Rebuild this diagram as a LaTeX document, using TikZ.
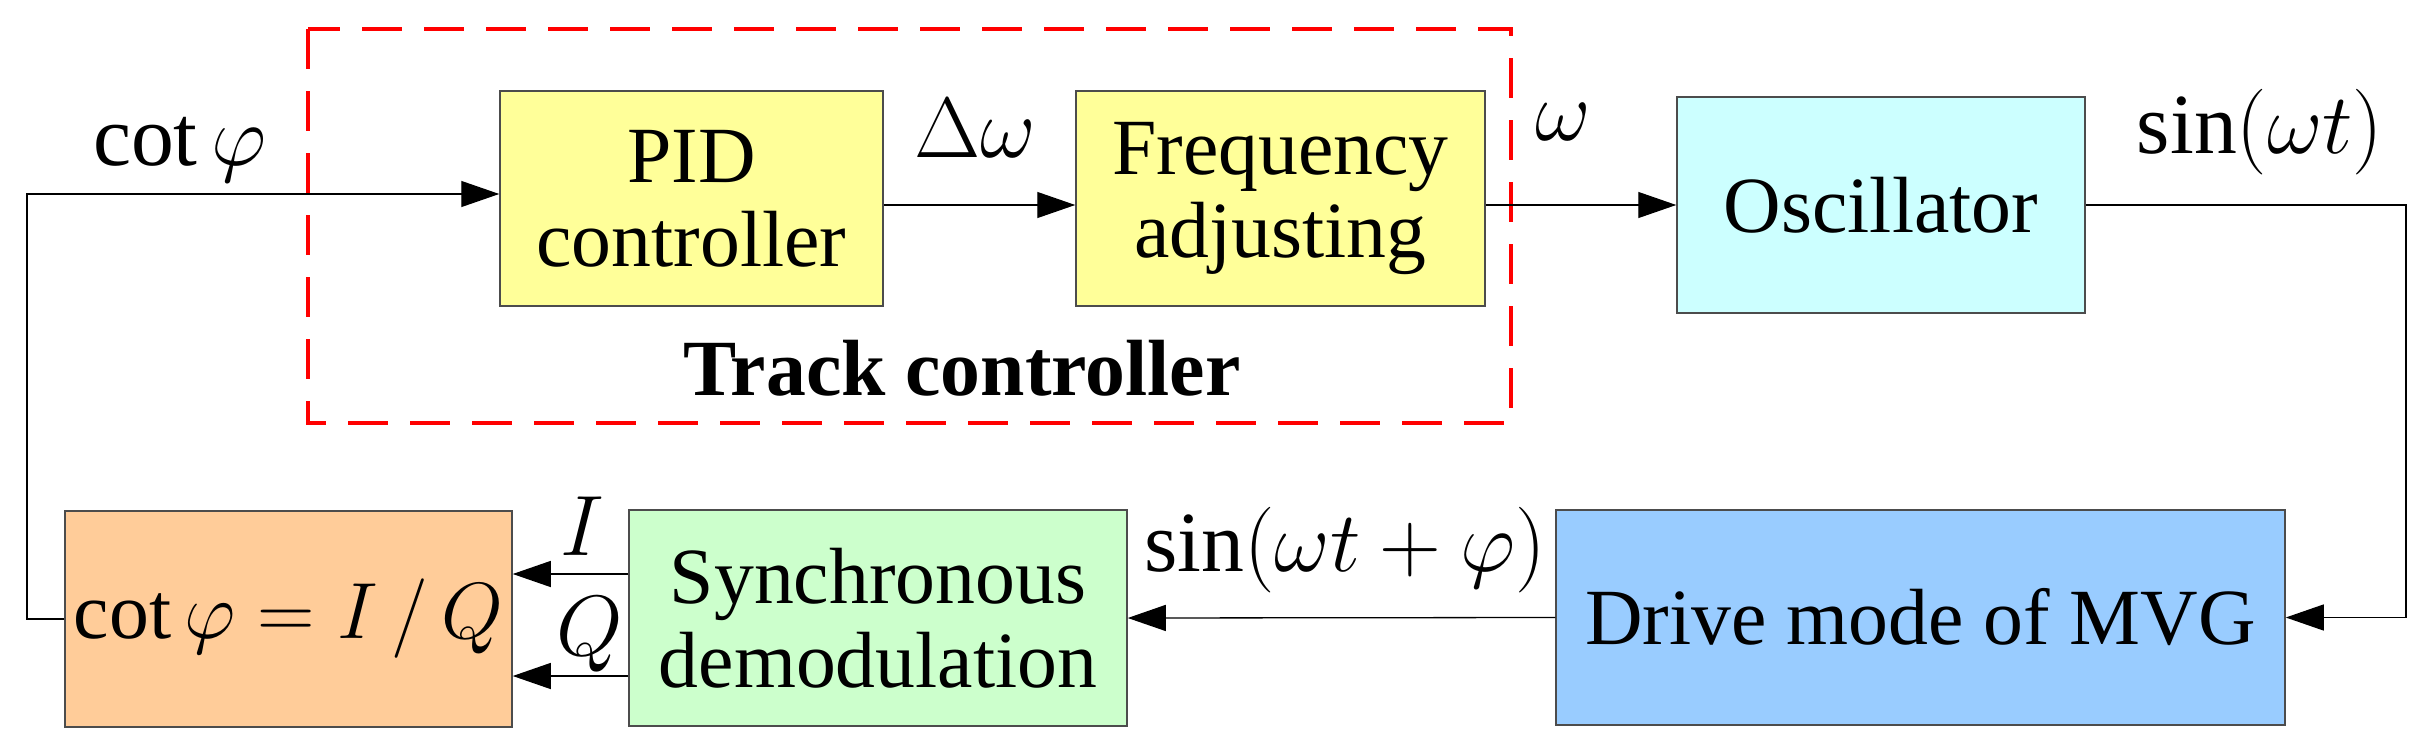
\RequirePackage{fix-cm}
\documentclass[tikz,border=0pt]{standalone}
\usepackage{fontspec}
\setmainfont{Liberation Serif}
\usetikzlibrary{arrows.meta}
\begin{document}
\begin{tikzpicture}[x=1bp,y=-1bp,
  blk/.style={draw=black!70,line width=1.5bp,align=center,inner sep=0pt,font=\fontsize{80}{84}\selectfont},
  lbl/.style={inner sep=0pt,font=\fontsize{86}{90}\selectfont},
  arr/.style={line width=1.3bp,-{Triangle[length=38bp,width=26bp]}},
  ln/.style={line width=1.3bp}]
\useasboundingbox (0,0) rectangle (2433,753);
\node[blk,fill={rgb,255:red,255;green,255;blue,153},minimum width=383bp,minimum height=215bp] (pid) at (691.5,198.5) {PID\\controller};
\node[blk,fill={rgb,255:red,255;green,255;blue,153},minimum width=409bp,minimum height=215bp] (fa) at (1280.5,198.5) {Frequency\\adjusting};
\node[blk,fill={rgb,255:red,204;green,255;blue,255},minimum width=408bp,minimum height=216bp] (osc) at (1881,205) {Oscillator};
\node[blk,fill={rgb,255:red,153;green,204;blue,255},minimum width=729bp,minimum height=215bp] (drv) at (1920.5,617.5) {Drive mode of MVG};
\node[blk,fill={rgb,255:red,204;green,255;blue,204},minimum width=498bp,minimum height=216bp] (syn) at (878,618) {Synchronous\\demodulation};
\node[blk,fill={rgb,255:red,255;green,204;blue,153},minimum width=447bp,minimum height=216bp] (cot) at (288.5,619) {$\cot\varphi = I\,/\,Q$};
\draw[red,line width=4.5bp,dash pattern=on 40bp off 22bp] (308,29) rectangle (1511,423);
\node[font=\fontsize{80}{84}\selectfont\bfseries] (tc) at (962,368) {Track controller};
\coordinate (c1) at (27,194);
\coordinate (c2) at (2406,206);
\draw[arr] (cot.west) -| (c1) -- (c1 -| pid.west);
\draw[arr] ([yshift=-6.5bp]pid.east) -- ([yshift=-6.5bp]fa.west);
\draw[arr] (osc.west -| fa.east) -- (osc.west);
\draw[arr] (osc.east) -| (c2) |- (drv.east);
\draw[arr] (drv.west) -- (syn.east);
\draw[arr] ([yshift=44bp]syn.west) -- ([yshift=44bp]syn.west -| cot.east);
\draw[arr] ([yshift=-58bp]syn.west) -- ([yshift=-58bp]syn.west -| cot.east);
\node[lbl] (l1) at (180,150) {$\cot\varphi$};
\node[lbl] (l2) at (975,128) {$\Delta\omega$};
\node[lbl] (l3) at (1563,122) {$\omega$};
\node[lbl] (l4) at (2260,132) {$\sin(\omega t)$};
\node[lbl] (l5) at (1345,550) {$\sin(\omega t+\varphi)$};
\node[lbl] (l6) at (582,526) {$I$};
\node[lbl] (l7) at (590,635) {$Q$};
\end{tikzpicture}
\end{document}
